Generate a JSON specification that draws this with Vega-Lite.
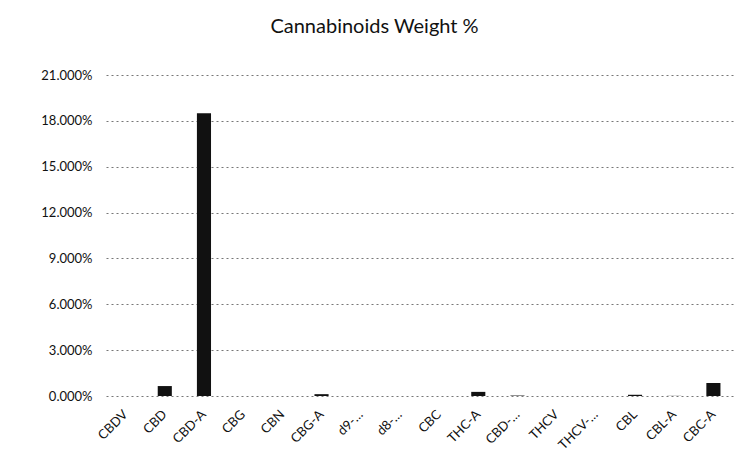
{
  "$schema": "https://vega.github.io/schema/vega-lite/v6.json",
  "autosize": {"type": "none"},
  "width": 627,
  "height": 321,
  "padding": {"left": 106, "top": 75, "right": 6, "bottom": 56},
  "background": "white",
  "title": {
    "text": "Cannabinoids Weight %",
    "font": "Lato",
    "fontSize": 20,
    "fontWeight": "normal",
    "color": "#111111",
    "anchor": "middle",
    "dx": -45,
    "offset": 32
  },
  "data": {
    "values": [
      {"cannabinoid": "CBDV", "weight": 0.0},
      {"cannabinoid": "CBD", "weight": 0.0065},
      {"cannabinoid": "CBD-A", "weight": 0.185},
      {"cannabinoid": "CBG", "weight": 0.0},
      {"cannabinoid": "CBN", "weight": 0.0},
      {"cannabinoid": "CBG-A", "weight": 0.0012},
      {"cannabinoid": "d9-…", "weight": 0.0},
      {"cannabinoid": "d8-…", "weight": 0.0},
      {"cannabinoid": "CBC", "weight": 0.0},
      {"cannabinoid": "THC-A", "weight": 0.0027},
      {"cannabinoid": "CBD-…", "weight": 0.0003},
      {"cannabinoid": "THCV", "weight": 0.0},
      {"cannabinoid": "THCV-…", "weight": 0.0},
      {"cannabinoid": "CBL", "weight": 0.0008},
      {"cannabinoid": "CBL-A", "weight": 0.0001},
      {"cannabinoid": "CBC-A", "weight": 0.0085}
    ]
  },
  "mark": {"type": "bar", "color": "#111111"},
  "encoding": {
    "x": {
      "field": "cannabinoid",
      "type": "nominal",
      "sort": null,
      "title": null,
      "scale": {"paddingInner": 0.64, "paddingOuter": 0.32},
      "axis": {
        "labelAngle": -45,
        "labelAlign": "right",
        "labelBaseline": "middle",
        "labelFont": "Lato",
        "labelFontSize": 13,
        "labelColor": "#111111",
        "labelPadding": 16,
        "ticks": false,
        "domain": false
      }
    },
    "y": {
      "field": "weight",
      "type": "quantitative",
      "title": null,
      "scale": {"domain": [0, 0.21], "nice": false},
      "axis": {
        "values": [0, 0.03, 0.06, 0.09, 0.12, 0.15, 0.18, 0.21],
        "format": ".3%",
        "labelFont": "Lato",
        "labelFontSize": 13,
        "labelColor": "#111111",
        "labelPadding": 14,
        "ticks": false,
        "domain": false,
        "grid": true,
        "gridColor": "#777777",
        "gridDash": [2, 3],
        "gridWidth": 1
      }
    }
  },
  "config": {"view": {"stroke": null}}
}
